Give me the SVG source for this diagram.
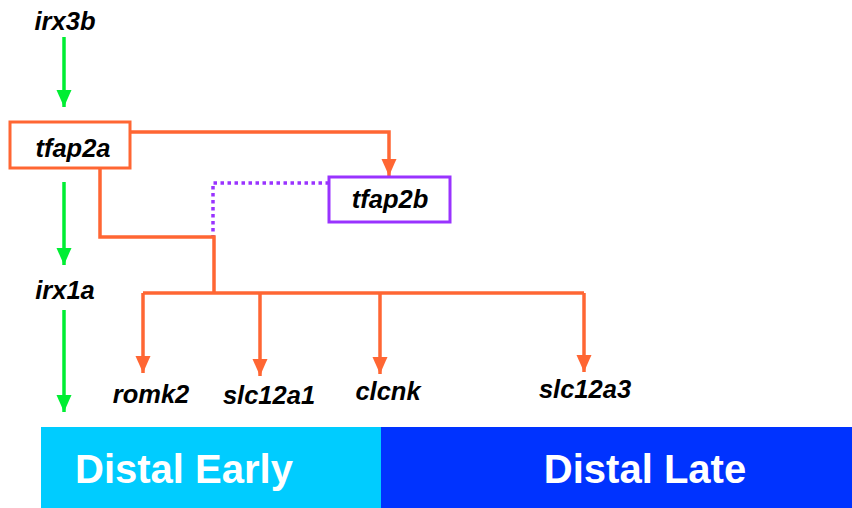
<svg xmlns="http://www.w3.org/2000/svg" width="852" height="508" viewBox="0 0 852 508">
<style>
.g{font-family:"Liberation Sans",Arial,sans-serif;font-style:italic;font-weight:bold;font-size:25.5px;fill:#000;text-anchor:middle}
.band{font-family:"Liberation Sans",Arial,sans-serif;font-weight:bold;font-size:40px;fill:#fff;text-anchor:middle}
.or{stroke:#ff6633;stroke-width:3.5;fill:none}
.gr{stroke:#00ee33;stroke-width:3.5;fill:none}
.pu{stroke:#9933ff;stroke-width:3.5;fill:none;stroke-dasharray:3.5 3.5}
</style>
<defs>
<marker id="ao" markerWidth="5" markerHeight="4.4" refX="5" refY="2.2" orient="auto" markerUnits="strokeWidth"><path d="M0,0 L5,2.2 L0,4.4 Z" fill="#ff6633"/></marker>
<marker id="ag" markerWidth="5" markerHeight="4.4" refX="5" refY="2.2" orient="auto" markerUnits="strokeWidth"><path d="M0,0 L5,2.2 L0,4.4 Z" fill="#00ee33"/></marker>
</defs>
<rect width="852" height="508" fill="#fff"/>
<g id="connectors">
<path class="gr" d="M64,37 V107" marker-end="url(#ag)"/>
<path class="gr" d="M64,182 V265" marker-end="url(#ag)"/>
<path class="gr" d="M64,310 V412" marker-end="url(#ag)"/>
<path class="or" d="M130,132 H389 V176" marker-end="url(#ao)"/>
<path class="pu" d="M329,183 H213 V237"/>
<path class="or" d="M100,168 V237 H214 V293"/>
<path class="or" d="M143,293 H584"/>
<path class="or" d="M143,293 V373" marker-end="url(#ao)"/>
<path class="or" d="M260,293 V376" marker-end="url(#ao)"/>
<path class="or" d="M380,293 V374" marker-end="url(#ao)"/>
<path class="or" d="M584,293 V372" marker-end="url(#ao)"/>
</g>
<g id="irx3b"><text class="g" x="65" y="30">irx3b</text></g>
<g id="tfap2a"><rect x="10" y="122" width="120" height="46" fill="#fff" stroke="#ff6633" stroke-width="3"/><text class="g" x="73" y="157">tfap2a</text></g>
<g id="tfap2b"><rect x="329" y="177" width="121" height="45" fill="#fff" stroke="#9933ff" stroke-width="3"/><text class="g" x="390" y="208">tfap2b</text></g>
<g id="irx1a"><text class="g" x="65" y="299">irx1a</text></g>
<g id="romk2"><text class="g" x="151" y="403">romk2</text></g>
<g id="slc12a1"><text class="g" x="269" y="404">slc12a1</text></g>
<g id="clcnk"><text class="g" x="388" y="400">clcnk</text></g>
<g id="slc12a3"><text class="g" x="585" y="398">slc12a3</text></g>
<g id="distal-early"><rect x="41" y="427" width="340" height="81" fill="#00ccff"/><text class="band" x="184" y="483">Distal Early</text></g>
<g id="distal-late"><rect x="381" y="427" width="471" height="81" fill="#0033ff"/><text class="band" x="645" y="483">Distal Late</text></g>
</svg>
